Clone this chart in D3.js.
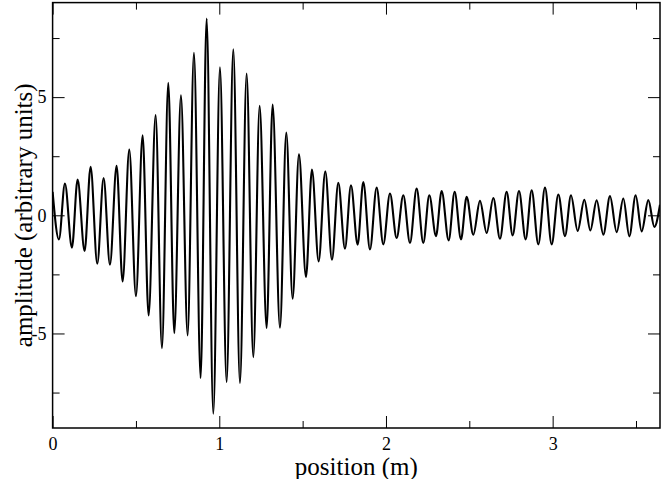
<!DOCTYPE html>
<html>
<head>
<meta charset="utf-8">
<script src="https://cdn.jsdelivr.net/npm/d3@7"></script>
<style>
html,body{margin:0;padding:0;background:#fff;}
svg{display:block;}
</style>
</head>
<body>
<svg id="chart" width="664" height="479"></svg>
<script>
// Local extrema of the signal (position in m, amplitude in arbitrary units)
const positionM = [
  0.000, 0.038, 0.074, 0.116, 0.150, 0.192, 0.228, 0.268, 0.306, 0.344, 0.384, 0.420, 0.460, 0.500, 0.540, 0.576, 0.618, 0.656, 0.694, 0.730, 0.770, 0.810, 0.848, 0.888, 0.924,
  0.964, 1.004, 1.044, 1.084, 1.124, 1.164, 1.204, 1.242, 1.284, 1.320, 1.364, 1.402, 1.440, 1.478, 1.520, 1.556, 1.596, 1.636, 1.676, 1.714, 1.754, 1.790, 1.830,
  1.864, 1.904, 1.944, 1.984, 2.024, 2.064, 2.104, 2.144, 2.184, 2.224, 2.260, 2.300, 2.334, 2.376, 2.412, 2.450, 2.484, 2.524, 2.564, 2.604, 2.644, 2.684, 2.724,
  2.760, 2.798, 2.838, 2.874, 2.914, 2.954, 2.994, 3.034, 3.074, 3.110, 3.150, 3.190, 3.226, 3.264, 3.304, 3.344, 3.384, 3.424, 3.460, 3.498, 3.534, 3.574, 3.610, 3.644
];
const amplitude = [
  0.99, -1.02, 1.34, -1.37, 1.51, -1.51, 2.05, -2.05, 1.58, -2.09, 2.09, -2.80, 2.78, -3.42, 3.39, -4.24, 4.24, -5.62, 5.61, -4.99, 5.08, -5.08, 6.88, -6.89, 8.33,
  -8.40, 6.26, -7.06, 7.02, -7.10, 6.00, -6.00, 4.63, -4.77, 4.69, -4.76, 3.50, -3.53, 2.58, -2.61, 1.94, -1.95, 1.86, -1.88, 1.37, -1.41, 1.27, -1.24,
  1.41, -1.44, 1.17, -1.23, 0.92, -0.96, 0.85, -1.17, 1.13, -1.17, 0.85, -0.88, 1.03, -1.06, 0.99, -1.02, 0.78, -0.82, 0.61, -0.75, 0.73, -0.99, 0.99,
  -0.85, 1.03, -1.02, 1.06, -1.23, 1.17, -1.23, 0.88, -0.88, 0.85, -0.66, 0.66, -0.64, 0.64, -0.82, 0.81, -0.71, 0.71, -0.89, 0.85, -0.68, 0.64, -0.49, 0.45
];
const xMajorTicks = [0, 1, 2, 3];
const xMinorTicks = [0.5, 1.5, 2.5, 3.5];
const yMajorTicks = [-5, 0, 5];
const yMinorTicks = [-7.5, -2.5, 2.5, 7.5];
const xDomain = [0, 3.644];
const yDomain = [-9, 9];
const xTitle = "position (m)";
const yTitle = "amplitude (arbitrary units)";

const FONT = "'Liberation Serif', Tinos, 'Times New Roman', Times, 'Nimbus Roman', 'DejaVu Serif', serif";
const L = 52.6, R = 660, T = 2.6, B = 428;
const svg = d3.select("#chart");
const x = d3.scaleLinear().domain(xDomain).range([L, R]);
const y = d3.scaleLinear().domain(yDomain).range([B, T]);

const data = positionM.map((p, i) => ({x: p, y: amplitude[i]}));

svg.append("defs").append("clipPath").attr("id", "clip")
  .append("rect").attr("x", L).attr("y", T).attr("width", R - L).attr("height", B - T);

function styleAxis(g) {
  g.attr("font-family", FONT).attr("font-size", 18);
  g.select(".domain").remove();
  g.selectAll(".tick line").attr("stroke", "#000").attr("stroke-width", 1);
  g.selectAll(".tick text").attr("fill", "#000")
    .attr("font-family", FONT).attr("font-size", 18).style("font-family", FONT);
}
// bottom
svg.append("g").attr("transform", `translate(0,${B})`)
  .call(d3.axisBottom(x).tickValues(xMajorTicks).tickSize(-12).tickPadding(9).tickFormat(d3.format("d")))
  .call(styleAxis);
svg.append("g").attr("transform", `translate(0,${B})`)
  .call(d3.axisBottom(x).tickValues(xMinorTicks).tickSize(-7).tickFormat(""))
  .call(styleAxis);
// top
svg.append("g").attr("transform", `translate(0,${T})`)
  .call(d3.axisTop(x).tickValues(xMajorTicks).tickSize(-12).tickFormat(""))
  .call(styleAxis);
svg.append("g").attr("transform", `translate(0,${T})`)
  .call(d3.axisTop(x).tickValues(xMinorTicks).tickSize(-7).tickFormat(""))
  .call(styleAxis);
// left
svg.append("g").attr("transform", `translate(${L},0)`)
  .call(d3.axisLeft(y).tickValues(yMajorTicks).tickSize(-12).tickPadding(6).tickFormat(d => String(d)))
  .call(styleAxis);
svg.append("g").attr("transform", `translate(${L},0)`)
  .call(d3.axisLeft(y).tickValues(yMinorTicks).tickSize(-7).tickFormat(""))
  .call(styleAxis);
// right
svg.append("g").attr("transform", `translate(${R},0)`)
  .call(d3.axisRight(y).tickValues(yMajorTicks).tickSize(-12).tickFormat(""))
  .call(styleAxis);
svg.append("g").attr("transform", `translate(${R},0)`)
  .call(d3.axisRight(y).tickValues(yMinorTicks).tickSize(-7).tickFormat(""))
  .call(styleAxis);

// curve
const line = d3.line().x(d => x(d.x)).y(d => y(d.y)).curve(d3.curveMonotoneX);
svg.append("path").datum(data)
  .attr("clip-path", "url(#clip)")
  .attr("fill", "none").attr("stroke", "#000").attr("stroke-width", 2.1)
  .attr("stroke-linejoin", "round")
  .attr("d", line);

// frame
svg.append("rect").attr("x", L).attr("y", T).attr("width", R - L).attr("height", B - T)
  .attr("fill", "none").attr("stroke", "#000").attr("stroke-width", 1.5);

// titles
svg.append("text").attr("x", (L + R) / 2).attr("y", 475).attr("text-anchor", "middle")
  .attr("font-family", FONT).style("font-family", FONT)
  .attr("font-size", 25).attr("fill", "#000").text(xTitle);
svg.append("text").attr("transform", `translate(32,${(T + B) / 2}) rotate(-90)`)
  .attr("font-family", FONT).style("font-family", FONT)
  .attr("text-anchor", "middle").attr("font-size", 25).attr("fill", "#000").text(yTitle);
</script>
</body>
</html>
